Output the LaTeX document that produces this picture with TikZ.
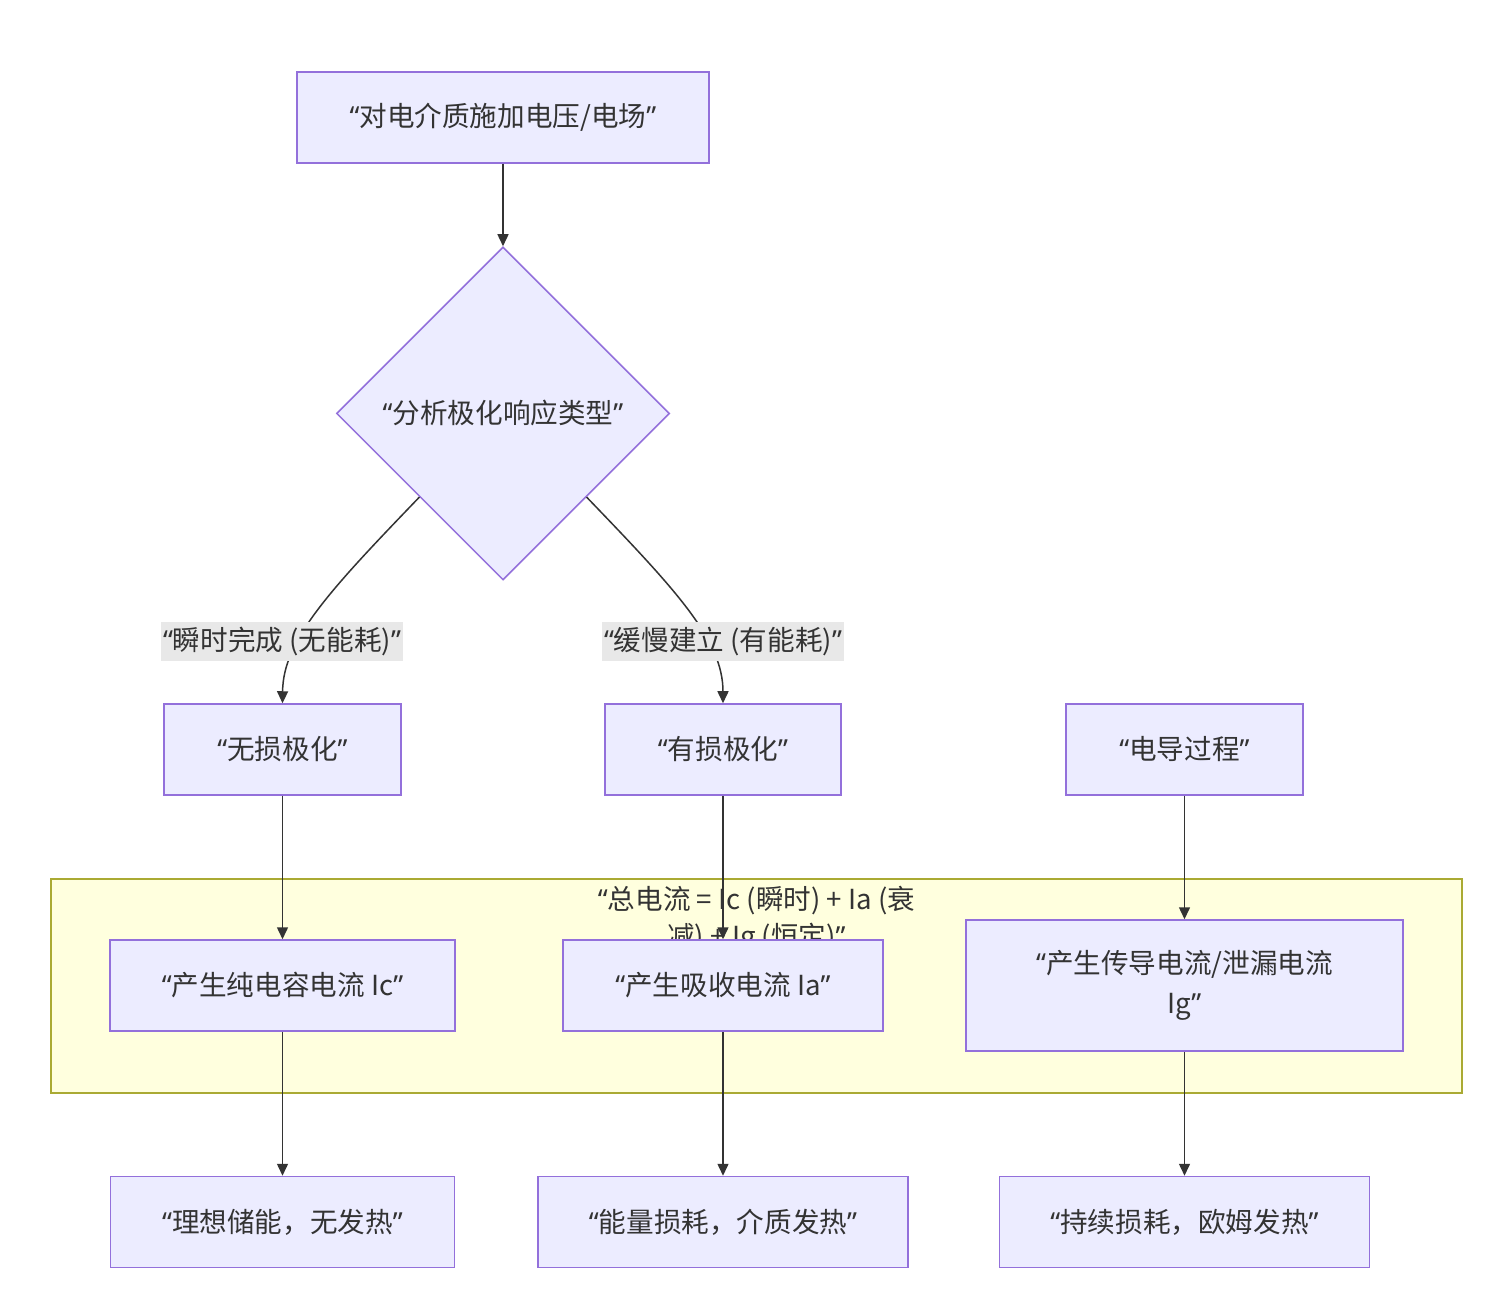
\documentclass[tikz,border=0pt]{standalone}
\usepackage{fontspec}
\setmainfont{Noto Sans CJK SC}
\newfontfamily\latf{Noto Sans}
\usetikzlibrary{shapes.geometric,arrows.meta}
\definecolor{nodefill}{HTML}{ECECFF}
\definecolor{nodeline}{HTML}{9370DB}
\definecolor{edgecol}{HTML}{333333}
\definecolor{txtcol}{HTML}{333333}
\definecolor{grpfill}{HTML}{FFFFDE}
\definecolor{grpline}{HTML}{AAAA33}
\definecolor{lblfill}{HTML}{E8E8E8}
\newcommand\myoq{{\latf “}}
\newcommand\mycq{{\latf ”}}
\begin{document}
\begin{tikzpicture}[x=0.5pt,y=-0.5pt,
  every node/.style={text=txtcol,font=\fontsize{13.8}{20}\selectfont},
  box/.style={draw=nodeline,fill=nodefill,line width=0.75pt,inner sep=0pt,align=center},
  dia/.style={diamond,draw=nodeline,fill=nodefill,line width=0.75pt,inner sep=0pt,minimum width=166.5pt,minimum height=166.5pt,aspect=1},
  lbl/.style={fill=lblfill,inner sep=0pt,minimum height=19.5pt,minimum width=121pt},
  edge/.style={draw=edgecol,line width=0.75pt,-{Triangle[length=6pt,width=5.5pt]}},
  grp/.style={draw=grpline,fill=grpfill,line width=0.6pt}]
\useasboundingbox (0,0) rectangle (1500,1315);
\fill[white] (0,0) rectangle (1500,1315);
% group
\draw[grp] (51,879) rectangle (1462,1093);
\node[anchor=north,align=center,font=\fontsize{13.8}{18.5}\selectfont] (gt) at (756.5,879) {\myoq 总电流 = Ic (瞬时) + Ia (衰\\减) + Ig (恒定)\mycq};
% nodes
\node[box,minimum width=206pt,minimum height=45.5pt] (a) at (503,117.5) {\myoq 对电介质施加电压/电场\mycq};
\node[dia] (b) at (503,413.5) {\myoq 分析极化响应类型\mycq};
\node[box,minimum width=118.5pt,minimum height=45.5pt] (c) at (282.5,749.5) {\myoq 无损极化\mycq};
\node[box,minimum width=118pt,minimum height=45.5pt] (d) at (723,749.5) {\myoq 有损极化\mycq};
\node[box,minimum width=118.5pt,minimum height=45.5pt] (e) at (1184.5,749.5) {\myoq 电导过程\mycq};
\node[box,minimum width=172.5pt,minimum height=45.5pt] (f) at (282.5,985.5) {\myoq 产生纯电容电流 Ic\mycq};
\node[box,minimum width=160pt,minimum height=45.5pt] (g) at (723,985.5) {\myoq 产生吸收电流 Ia\mycq};
\node[box,minimum width=218.5pt,minimum height=65.5pt] (h) at (1184.5,985.5) {\myoq 产生传导电流/泄漏电流\\Ig\mycq};
\node[box,minimum width=172pt,minimum height=45.5pt] (i) at (282.5,1222) {\myoq 理想储能，无发热\mycq};
\node[box,minimum width=185pt,minimum height=45.5pt] (j) at (723,1222) {\myoq 能量损耗，介质发热\mycq};
\node[box,minimum width=185pt,minimum height=45.5pt] (k) at (1184.5,1222) {\myoq 持续损耗，欧姆发热\mycq};
% edges
\draw[edge] (a) -- (b);
\draw[edge] (b.south west) .. controls (330,590) and (283,640) .. (c.north);
\draw[edge] (b.south east) .. controls (676,590) and (723,640) .. (d.north);
\node[lbl] (l1) at (282,641.5) {\myoq 瞬时完成 (无能耗)\mycq};
\node[lbl] (l2) at (723,641.5) {\myoq 缓慢建立 (有能耗)\mycq};
\draw[edge] (c) -- (f);
\draw[edge] (e) -- (h);
\draw[edge] (f) -- (i);
\draw[edge] (g) -- (j);
\draw[edge] (h) -- (k);
\draw[edge] (d) -- (g);
% redraw g over the group title
\node[box,minimum width=160pt,minimum height=45.5pt] at (g) {\myoq 产生吸收电流 Ia\mycq};
\end{tikzpicture}
\end{document}
